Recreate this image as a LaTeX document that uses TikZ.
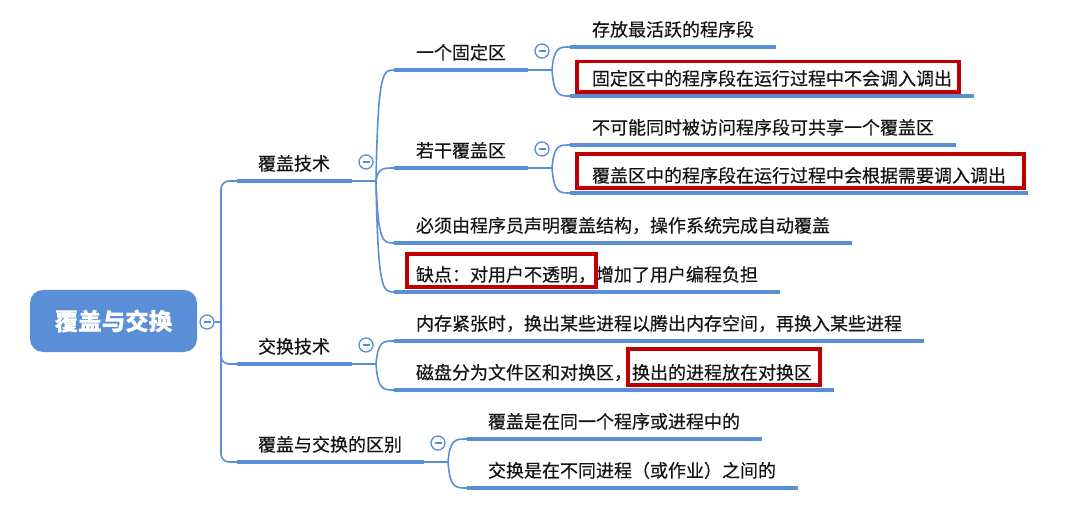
\documentclass[tikz,border=0pt]{standalone}
\usepackage{fontspec}
\setmainfont{Noto Sans CJK SC}[FakeBold=0.35]
\usetikzlibrary{calc}
\definecolor{mblue}{RGB}{90,142,214}
\definecolor{mred}{RGB}{192,0,0}
\definecolor{mtext}{RGB}{20,20,20}
\tikzset{
  txt/.style={anchor=base west, inner sep=0pt, outer sep=0pt, font=\fontsize{18}{20}\selectfont, text=mtext},
  barline/.style={draw=mblue, line width=4.6pt},
  link/.style={draw=mblue, line width=1.6pt},
  redbox/.style={draw=mred, line width=3.3pt},
  tog/.style={circle, draw=mblue, line width=1.3pt, fill=white, minimum size=14pt, inner sep=0pt,
    path picture={\draw[mblue, line width=1.1pt] ($(path picture bounding box.center)+(-3.5,0)$) -- ++(7,0);}},
  rootbox/.style={rounded corners=13pt, fill=mblue, text=white, font=\fontsize{23.5}{26}\selectfont\bfseries,
    minimum width=167pt, minimum height=62pt, inner sep=0pt},
}
% #1 name, #2 x of text, #3 y of bar, #4 x of bar start, #5 text
\newcommand\mmitem[5]{%
  \node[txt] (#1) at (#2,#3-10.75) {#5};
  \coordinate (#1-s) at (#4,#3);
  \coordinate (#1-e) at ($(#1.base east)+(22,10.75)$);
  \draw[barline] (#1-s) -- (#1-e);
}
% bar already drawn for #1: add toggle and fork
\newcommand\mmfork[1]{%
  \node[tog] (#1-t) at ($(#1-e)+(14,-19)$) {};
  \coordinate (#1-f) at ($(#1-e)+(24,0)$);
  \draw[link] (#1-e) -- (#1-f);
}
\newcommand\brcurve[2]{%
  \draw[link] (#1) .. controls ($(#1|-#2)+(2,0)$) and ($(#1|-#2)+(7,0)$) .. (#2);
}
\begin{document}
\begin{tikzpicture}[x=1pt,y=-1pt]
\useasboundingbox (0,0) rectangle (1068,521);
\fill[white] (0,0) rectangle (1068,521);

% root
\node[rootbox] (root) at (113.5,321) {覆盖与交换};
\node[tog] (root-t) at (207,322) {};
\coordinate (J) at (221,322);
\draw[link] (root-t.east) -- (J);

% level 1
\mmitem{a}{258}{181}{237}{覆盖技术}
\mmitem{b}{258}{364}{237}{交换技术}
\mmitem{c}{258}{462}{237}{覆盖与交换的区别}
\draw[link, rounded corners=8pt] (J) |- (a-s);
\draw[link, rounded corners=8pt] (J) |- (b-s);
\draw[link, rounded corners=8pt] (J) |- (c-s);
\mmfork{a}
\mmfork{b}
\mmfork{c}

% children of 覆盖技术
\mmitem{a1}{416}{70}{394}{一个固定区}
\mmitem{a2}{416}{168}{394}{若干覆盖区}
\mmitem{a3}{416}{243}{394}{必须由程序员声明覆盖结构，操作系统完成自动覆盖}
\node[txt] (a4) at (416,292-10.75) {缺点：对用户不透明，};
\node[txt] (a4r) at (a4.base east) {增加了用户编程负担};
\coordinate (a4-s) at (394,292);
\coordinate (a4-e) at ($(a4r.base east)+(22,10.75)$);
\draw[barline] (a4-s) -- (a4-e);
\draw[redbox] ($(a4.base west)+(-9,-27.25)$) rectangle ($(a4.base east)+(0,5.75)$);
\brcurve{a-f}{a1-s}
\brcurve{a-f}{a2-s}
\brcurve{a-f}{a3-s}
\brcurve{a-f}{a4-s}
\mmfork{a1}
\mmfork{a2}

% children of 一个固定区
\mmitem{a11}{592}{47}{570}{存放最活跃的程序段}
\mmitem{a12}{592}{96}{570}{固定区中的程序段在运行过程中不会调入调出}
\draw[redbox] ($(a12.base west)+(-15,-23.75)$) rectangle ($(a12.base east)+(7,6.75)$);
\brcurve{a1-f}{a11-s}
\brcurve{a1-f}{a12-s}

% children of 若干覆盖区
\mmitem{a21}{592}{145}{570}{不可能同时被访问程序段可共享一个覆盖区}
\mmitem{a22}{592}{193}{570}{覆盖区中的程序段在运行过程中会根据需要调入调出}
\draw[redbox] ($(a22.base west)+(-15,-28.25)$) rectangle ($(a22.base east)+(18,5.75)$);
\brcurve{a2-f}{a21-s}
\brcurve{a2-f}{a22-s}

% children of 交换技术
\mmitem{b1}{416}{341}{394}{内存紧张时，换出某些进程以腾出内存空间，再换入某些进程}
\node[txt] (b2) at (416,390-10.75) {磁盘分为文件区和对换区，};
\node[txt] (b2r) at (b2.base east) {换出的进程放在对换区};
\coordinate (b2-s) at (394,390);
\coordinate (b2-e) at ($(b2r.base east)+(22,10.75)$);
\draw[barline] (b2-s) -- (b2-e);
\draw[redbox] ($(b2r.base west)+(-4,-30.25)$) rectangle ($(b2r.base east)+(8,5.75)$);
\brcurve{b-f}{b1-s}
\brcurve{b-f}{b2-s}

% children of 覆盖与交换的区别
\mmitem{c1}{488}{439}{467}{覆盖是在同一个程序或进程中的}
\mmitem{c2}{488}{488}{467}{交换是在不同进程（或作业）之间的}
\brcurve{c-f}{c1-s}
\brcurve{c-f}{c2-s}
\end{tikzpicture}
\end{document}
